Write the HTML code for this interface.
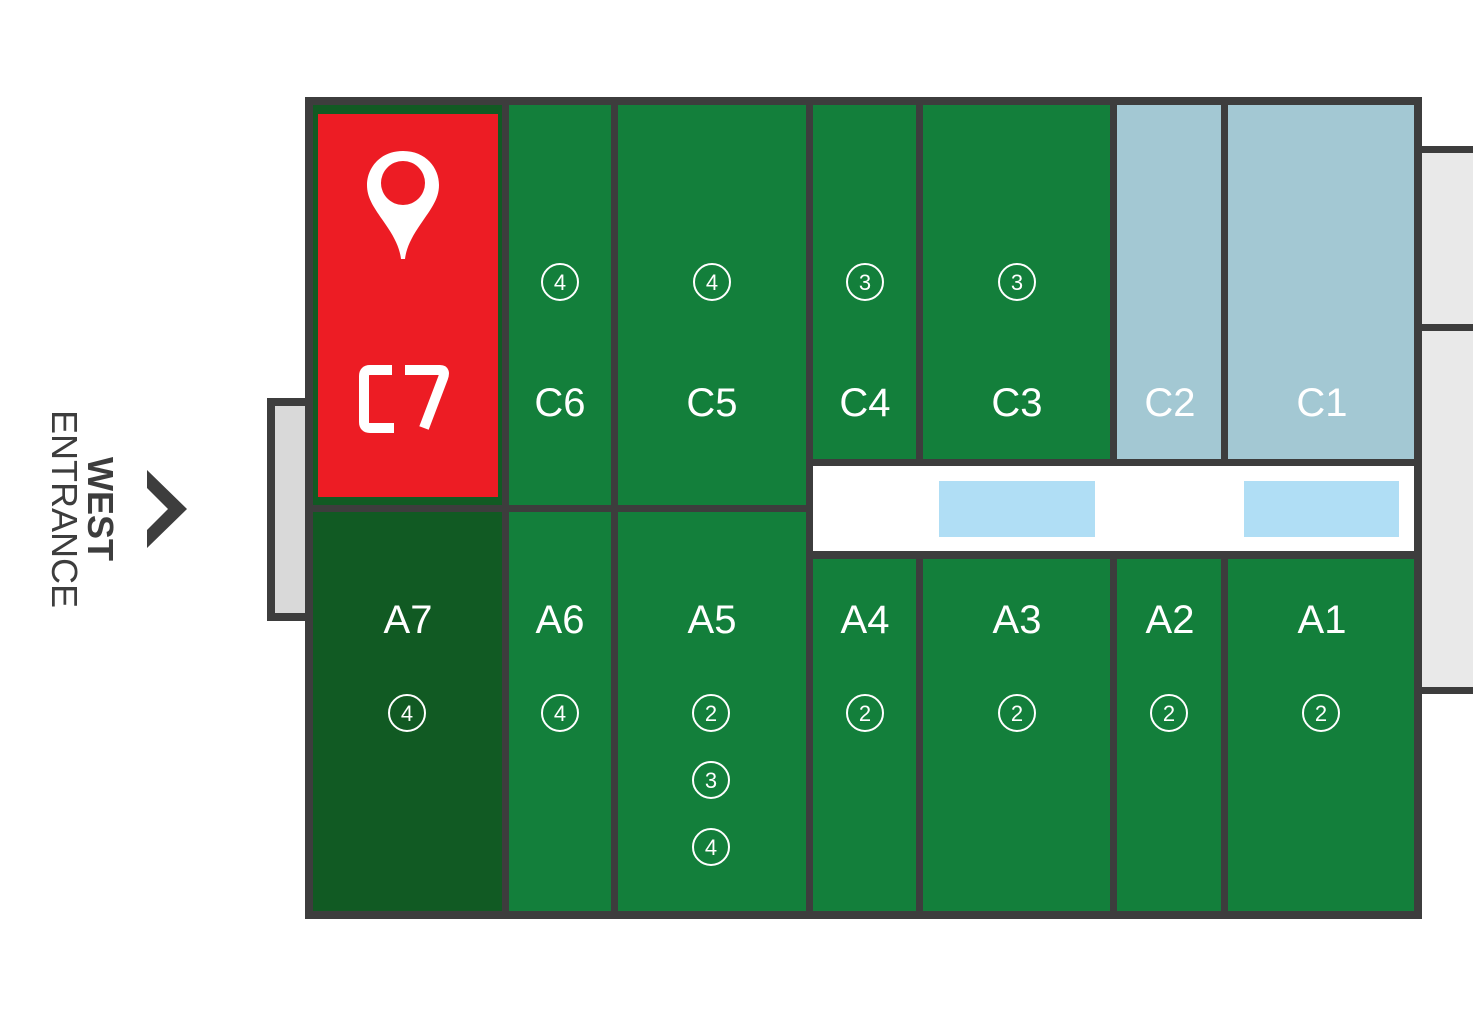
<!DOCTYPE html>
<html><head><meta charset="utf-8"><style>
html,body{margin:0;padding:0;background:#fff;}
svg{display:block;}
text{font-family:"Liberation Sans",sans-serif;}
</style></head><body>
<svg width="1473" height="1017" viewBox="0 0 1473 1017" xmlns="http://www.w3.org/2000/svg">
<rect width="1473" height="1017" fill="#fff"/>
<!-- right annex -->
<rect x="1414" y="146" width="70" height="548" fill="#3d3d3d"/>
<rect x="1422" y="153" width="60" height="171" fill="#e9e9e9"/>
<rect x="1422" y="331" width="60" height="356" fill="#e9e9e9"/>
<!-- left annex -->
<rect x="267" y="398" width="50" height="223" fill="#3d3d3d"/>
<rect x="275" y="406" width="35" height="207" fill="#d9d9d9"/>
<!-- frame -->
<rect x="305" y="97" width="1117" height="822" fill="#3d3d3d"/>
<!-- C row -->
<rect x="313" y="105" width="189" height="400" fill="#115a23"/>
<rect x="318" y="114" width="180" height="383" fill="#ed1c24"/>
<rect x="509" y="105" width="102" height="400" fill="#137f3b"/>
<rect x="618" y="105" width="188" height="400" fill="#137f3b"/>
<rect x="813" y="105" width="103" height="354" fill="#137f3b"/>
<rect x="923" y="105" width="187" height="354" fill="#137f3b"/>
<rect x="1117" y="105" width="104" height="354" fill="#a3c8d3"/>
<rect x="1228" y="105" width="186" height="354" fill="#a3c8d3"/>
<!-- corridor -->
<rect x="813" y="466" width="601" height="85" fill="#fff"/>
<rect x="939" y="481" width="156" height="56" fill="#b0def5"/>
<rect x="1244" y="481" width="155" height="56" fill="#b0def5"/>
<!-- A row -->
<rect x="313" y="512" width="189" height="399" fill="#115a23"/>
<rect x="509" y="512" width="102" height="399" fill="#137f3b"/>
<rect x="618" y="512" width="188" height="399" fill="#137f3b"/>
<rect x="813" y="559" width="103" height="352" fill="#137f3b"/>
<rect x="923" y="559" width="187" height="352" fill="#137f3b"/>
<rect x="1117" y="559" width="104" height="352" fill="#137f3b"/>
<rect x="1228" y="559" width="186" height="352" fill="#137f3b"/>
<!-- pin -->
<path d="M403,151 C380,151 367,168 367,185 C367,200 376,210 388,228 C396,240 400,250 401,259 L405,259 C406,250 410,240 418,228 C430,210 439,200 439,185 C439,168 426,151 403,151 Z" fill="#fff"/>
<circle cx="403" cy="183" r="22" fill="#ed1c24"/>
<!-- C7 label -->
<path d="M392,370 L370,370 Q364,370 364,376 L364,422 Q364,428 370,428 L394,428" fill="none" stroke="#fff" stroke-width="10"/>
<path d="M405,370 L440,370 Q446,370 443,378 L424,428" fill="none" stroke="#fff" stroke-width="10"/>
<g fill="#fff" font-size="40" text-anchor="middle">
<text x="560" y="416">C6</text>
<text x="712" y="416">C5</text>
<text x="865" y="416">C4</text>
<text x="1017" y="416">C3</text>
<text x="1170" y="416">C2</text>
<text x="1322" y="416">C1</text>
<text x="408" y="633">A7</text>
<text x="560" y="633">A6</text>
<text x="712" y="633">A5</text>
<text x="865" y="633">A4</text>
<text x="1017" y="633">A3</text>
<text x="1170" y="633">A2</text>
<text x="1322" y="633">A1</text>
</g>
<g fill="none" stroke="#fff" stroke-width="2">
<circle cx="560" cy="282" r="18"/><circle cx="712" cy="282" r="18"/>
<circle cx="865" cy="282" r="18"/><circle cx="1017" cy="282" r="18"/>
<circle cx="407" cy="713" r="18"/><circle cx="560" cy="713" r="18"/>
<circle cx="711" cy="713" r="18"/><circle cx="711" cy="780" r="18"/><circle cx="711" cy="847" r="18"/>
<circle cx="865" cy="713" r="18"/><circle cx="1017" cy="713" r="18"/>
<circle cx="1169" cy="713" r="18"/><circle cx="1321" cy="713" r="18"/>
</g>
<g fill="#fff" font-size="22" text-anchor="middle">
<text x="560" y="290">4</text><text x="712" y="290">4</text>
<text x="865" y="290">3</text><text x="1017" y="290">3</text>
<text x="407" y="721">4</text><text x="560" y="721">4</text>
<text x="711" y="721">2</text><text x="711" y="788">3</text><text x="711" y="855">4</text>
<text x="865" y="721">2</text><text x="1017" y="721">2</text>
<text x="1169" y="721">2</text><text x="1321" y="721">2</text>
</g>
<!-- west entrance -->
<g transform="translate(80,509) rotate(90)" fill="#3d3d3d" text-anchor="middle" font-size="36">
<text x="0" y="-8" font-weight="bold">WEST</text>
<text x="0" y="28">ENTRANCE</text>
</g>
<path d="M147,470 L187,509 L147,548 L147,530 L168,509 L147,488 Z" fill="#3d3d3d"/>
</svg>
</body></html>
